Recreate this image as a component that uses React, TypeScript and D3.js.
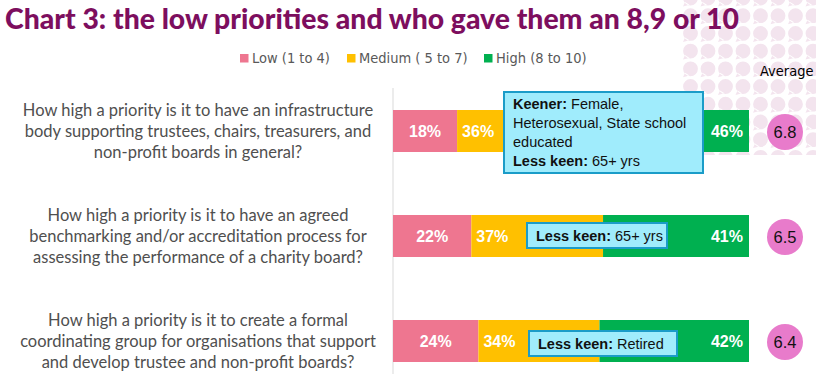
import React from "react";
import * as d3 from "d3";

const title = "Chart 3: the low priorities and who gave them an 8,9 or 10";
const seriesNames = ["Low (1 to 4)", "Medium ( 5 to 7)", "High (8 to 10)"];
const seriesColors = ["#EE7690", "#FFC000", "#00B050"];

const questions = [
  ["How high a priority is it to have an infrastructure", "body supporting trustees, chairs, treasurers, and", "non-profit boards in general?"],
  ["How high a priority is it to have an agreed", "benchmarking and/or accreditation process for", "assessing the performance of a charity board?"],
  ["How high a priority is it to create a formal", "coordinating group for organisations that support", "and develop trustee and non-profit boards?"],
];
const low = [18, 22, 24];
const medium = [36, 37, 34];
const high = [46, 41, 42];
const averages = [6.8, 6.5, 6.4];
const keener = [["Female,", "Heterosexual, State school", "educated"], [], []];
const lessKeen = ["65+ yrs", "65+ yrs", "Retired"];

// layout of callout boxes (pixels)
const calloutBoxes = [
  { x0: 504, x1: 703, y0: 92, y1: 173 },
  { x0: 527, x1: 667, y0: 223, y1: 248 },
  { x0: 529, x1: 677, y0: 331, y1: 356 },
];

const W = 816, H = 374;
const x = d3.scaleLinear().domain([0, 100]).range([393, 749]);
const y = d3.scaleBand<number>().domain([0, 1, 2]).range([78.5, 393.5]).paddingInner(0.6).paddingOuter(0.3);

const bubbleCols = d3.range(8).map((i) => 690.5 + i * 17.5);
const bubbleRows = d3.range(10).map((j) => -2 + j * 17.7);

function bubblePath(cx: number, cy: number) {
  const p = d3.path();
  p.arc(cx, cy, 7.4, 0, Math.PI * 2);
  p.moveTo(cx - 5.5, cy + 4);
  p.lineTo(cx - 7.5, cy + 8.5);
  p.lineTo(cx - 1, cy + 6.8);
  p.closePath();
  return p.toString();
}

const sans = "'Liberation Sans', Arial, sans-serif";
const narrow = "'Liberation Sans Narrow', 'DejaVu Sans Condensed', 'Liberation Sans', sans-serif";

export default function App() {
  const rows = questions.map((q, i) => {
    const segs = [low[i], medium[i], high[i]];
    const starts = [0, low[i], low[i] + medium[i]];
    return { q, segs, starts, i };
  });
  const legendX = [240, 347, 484];
  return (
    <svg width={W} height={H} style={{ position: "absolute", left: 0, top: 0, background: "#fff" }}>
      <defs>
        <clipPath id="bclip">
          <rect x={682} y={0} width={134} height={155} />
        </clipPath>
      </defs>
      <g clipPath="url(#bclip)" fill="#F3E4EE">
        {bubbleRows.map((by) =>
          bubbleCols.map((bx) => <path key={`${bx}-${by}`} d={bubblePath(bx, by)} />)
        )}
      </g>
      <text x={5} y={29} fontFamily="Lato, 'Liberation Sans', sans-serif" fontWeight={900} fontSize={29} fill="#7D0E5E"
        textLength={734} lengthAdjust="spacingAndGlyphs">{title}</text>

      {seriesNames.map((s, k) => (
        <g key={s}>
          <rect x={legendX[k]} y={54} width={8.5} height={8.5} fill={seriesColors[k]} />
          <text x={legendX[k] + 12} y={63} fontFamily={narrow} fontSize={14.5} fill="#595959">{s}</text>
        </g>
      ))}
      <text x={760} y={76} fontFamily={narrow} fontSize={14.5} fill="#000">Average</text>

      <line x1={x(0)} x2={x(0)} y1={88} y2={H} stroke="#D9D9D9" strokeWidth={1} />

      {rows.map(({ q, segs, starts, i }) => {
        const yc = (y(i) as number) + y.bandwidth() / 2;
        return (
          <g key={i}>
            {q.map((line, l) => (
              <text key={l} x={198} y={yc + (l - 1) * 21 + 6} textAnchor="middle" fontFamily="Lato, sans-serif"
                fontSize={16.5} fill="#4F4F4F">{line}</text>
            ))}
            {segs.map((v, k) => (
              <rect key={k} x={x(starts[k])} y={y(i)} width={x(starts[k] + v) - x(starts[k])}
                height={y.bandwidth()} fill={seriesColors[k]} />
            ))}
            <text x={(x(0) + x(segs[0])) / 2} y={yc + 6} textAnchor="middle" fontFamily={sans}
              fontWeight={700} fontSize={16} fill="#fff">{segs[0]}%</text>
            <text x={x(starts[1]) + 5} y={yc + 6} textAnchor="start" fontFamily={sans}
              fontWeight={700} fontSize={16} fill="#fff">{segs[1]}%</text>
            <text x={x(100) - 6} y={yc + 6} textAnchor="end" fontFamily={sans}
              fontWeight={700} fontSize={16} fill="#fff">{segs[2]}%</text>
            <circle cx={785} cy={yc + 1} r={18} fill="#E87BCB" />
            <text x={785} y={yc + 7} textAnchor="middle" fontFamily={sans} fontSize={16.5} fill="#111">
              {averages[i].toFixed(1)}
            </text>
          </g>
        );
      })}

      {rows.map(({ i }) => {
        const b = calloutBoxes[i];
        const lines: { bold: string; rest: string }[] = [];
        keener[i].forEach((t, k) => lines.push({ bold: k === 0 ? "Keener: " : "", rest: t }));
        lines.push({ bold: "Less keen: ", rest: lessKeen[i] });
        const n = lines.length;
        const midY = (b.y0 + b.y1) / 2;
        return (
          <g key={"c" + i}>
            <rect x={b.x0} y={b.y0} width={b.x1 - b.x0} height={b.y1 - b.y0} fill="#A0ECFC"
              stroke="#1B9CC8" strokeWidth={2} />
            {lines.map((ln, k) => (
              <text key={k} x={b.x0 + 9} y={midY + (k - (n - 1) / 2) * 18.8 + 5} fontFamily={sans}
                fontSize={14.5} fill="#111">
                {ln.bold && <tspan fontWeight={700}>{ln.bold}</tspan>}
                <tspan>{ln.rest}</tspan>
              </text>
            ))}
          </g>
        );
      })}
    </svg>
  );
}
